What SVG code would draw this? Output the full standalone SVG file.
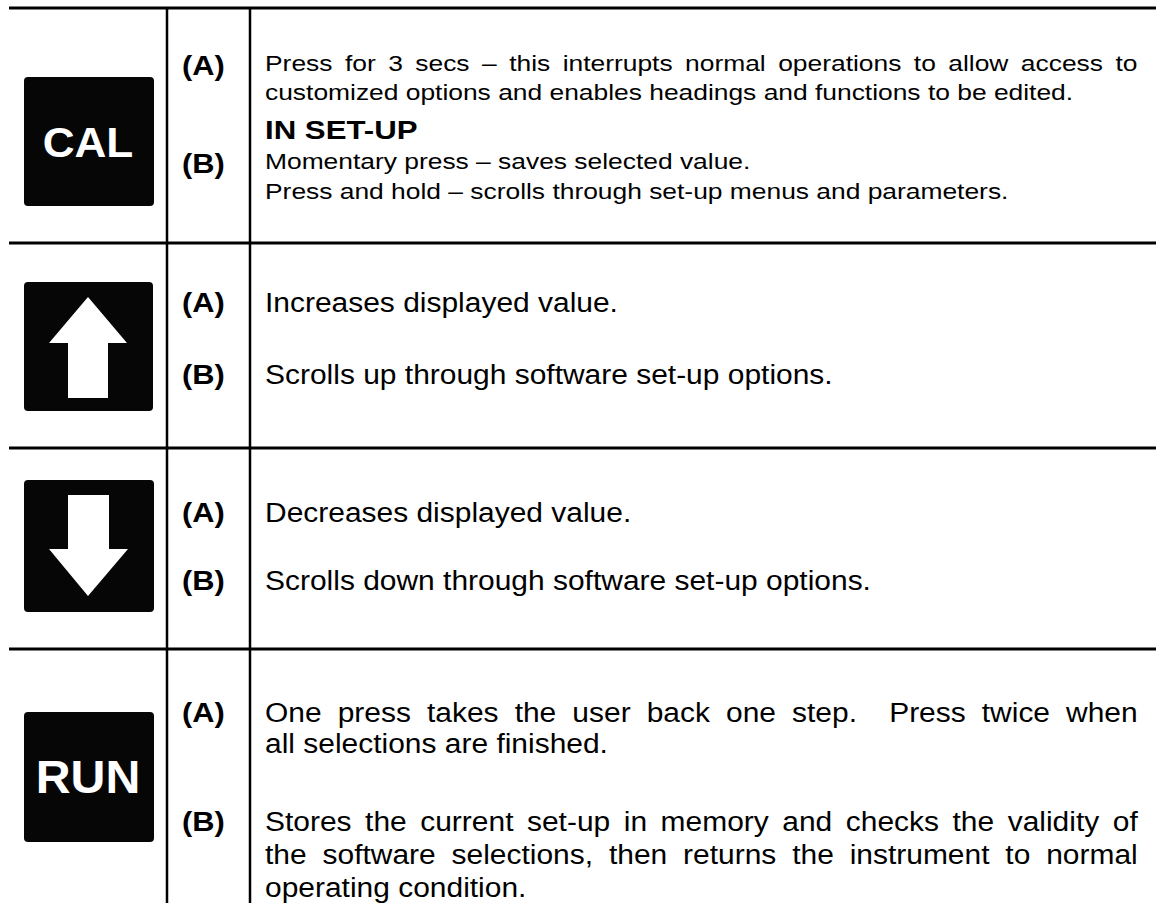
<svg xmlns="http://www.w3.org/2000/svg" width="1156" height="903" viewBox="0 0 1156 903">
  <style>
    .rule { stroke: #000; stroke-width: 3; fill: none; }
    .vrule { stroke: #000; stroke-width: 2.5; fill: none; }
    .key { fill: #060606; }
    .keytxt { font-family: "Liberation Sans", Arial, sans-serif; font-weight: bold; fill: #fff; text-anchor: middle; }
    .arrow { fill: #fff; }
    .lbl { font-family: "Liberation Sans", Arial, sans-serif; font-weight: bold; font-size: 28px; fill: #000; }
    .small { font-family: "Liberation Sans", Arial, sans-serif; font-size: 22px; fill: #000; }
    .smallb { font-family: "Liberation Sans", Arial, sans-serif; font-size: 26px; font-weight: bold; fill: #000; }
    .body { font-family: "Liberation Sans", Arial, sans-serif; font-size: 28px; fill: #000; }
  </style>

  <rect width="1156" height="903" fill="#fff"/>

  <!-- table rules -->
  <g id="connectors">
    <line class="rule" x1="9" y1="8" x2="1156" y2="8"/>
    <line class="rule" x1="9" y1="243" x2="1156" y2="243"/>
    <line class="rule" x1="9" y1="448" x2="1156" y2="448"/>
    <line class="rule" x1="9" y1="649" x2="1156" y2="649"/>
    <line class="vrule" x1="167" y1="8" x2="167" y2="903"/>
    <line class="vrule" x1="250" y1="8" x2="250" y2="903"/>
  </g>

  <!-- CAL key -->
  <g id="key-cal">
    <rect class="key" x="24" y="77" width="130" height="129" rx="4"/>
    <text class="keytxt" transform="translate(88,157) scale(1.05,1)" font-size="42">CAL</text>
  </g>
  <g id="row-cal">
    <text class="lbl" transform="translate(182,75) scale(1.1,1)">(A)</text>
    <text class="lbl" transform="translate(182,173) scale(1.1,1)">(B)</text>
    <text class="small" transform="translate(265,71) scale(1.2,1)" word-spacing="4.28">Press for 3 secs – this interrupts normal operations to allow access to</text>
    <text class="small" transform="translate(265,100) scale(1.2,1)">customized options and enables headings and functions to be edited.</text>
    <text class="smallb" transform="translate(265,139) scale(1.2,1)">IN SET-UP</text>
    <text class="small" transform="translate(265,169) scale(1.2,1)">Momentary press – saves selected value.</text>
    <text class="small" transform="translate(265,199) scale(1.2,1)">Press and hold – scrolls through set-up menus and parameters.</text>
  </g>

  <!-- UP key -->
  <g id="key-up">
    <rect class="key" x="24" y="282" width="129" height="129" rx="4"/>
    <polygon class="arrow" points="88,297 127,343 108,343 108,398 68,398 68,343 49,343"/>
  </g>
  <g id="row-up">
    <text class="lbl" transform="translate(182,312) scale(1.1,1)">(A)</text>
    <text class="lbl" transform="translate(182,384) scale(1.1,1)">(B)</text>
    <text class="body" transform="translate(265,312) scale(1.07,1)">Increases displayed value.</text>
    <text class="body" transform="translate(265,384) scale(1.07,1)">Scrolls up through software set-up options.</text>
  </g>

  <!-- DOWN key -->
  <g id="key-down">
    <rect class="key" x="24" y="480" width="130" height="132" rx="4"/>
    <polygon class="arrow" points="68,495 109,495 109,549 128,549 88,596 49,549 68,549"/>
  </g>
  <g id="row-down">
    <text class="lbl" transform="translate(182,522) scale(1.1,1)">(A)</text>
    <text class="lbl" transform="translate(182,590) scale(1.1,1)">(B)</text>
    <text class="body" transform="translate(265,522) scale(1.07,1)">Decreases displayed value.</text>
    <text class="body" transform="translate(265,590) scale(1.07,1)">Scrolls down through software set-up options.</text>
  </g>

  <!-- RUN key -->
  <g id="key-run">
    <rect class="key" x="24" y="712" width="130" height="130" rx="4"/>
    <text class="keytxt" transform="translate(88,793) scale(1.05,1)" font-size="46">RUN</text>
  </g>
  <g id="row-run">
    <text class="lbl" transform="translate(182,722) scale(1.1,1)">(A)</text>
    <text class="lbl" transform="translate(182,831) scale(1.1,1)">(B)</text>
    <text class="body" transform="translate(265,722) scale(1.07,1)" xml:space="preserve" word-spacing="7.25">One press takes the user back one step.  Press twice when</text>
    <text class="body" transform="translate(265,753) scale(1.07,1)">all selections are finished.</text>
    <text class="body" transform="translate(265,831) scale(1.07,1)" word-spacing="4.87">Stores the current set-up in memory and checks the validity of</text>
    <text class="body" transform="translate(265,864) scale(1.07,1)" word-spacing="7.06">the software selections, then returns the instrument to normal</text>
    <text class="body" transform="translate(265,897) scale(1.07,1)">operating condition.</text>
  </g>
</svg>
